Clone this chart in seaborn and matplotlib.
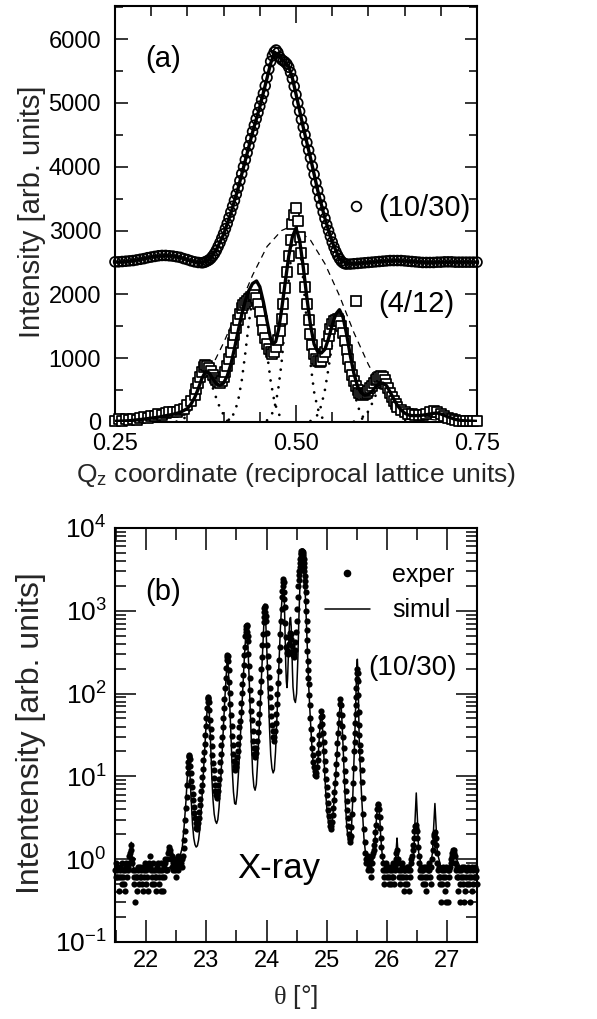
import matplotlib
matplotlib.use("Agg")
import numpy as np
import matplotlib.pyplot as plt
import seaborn as sns
from matplotlib.lines import Line2D
from matplotlib.ticker import MultipleLocator, LogLocator, NullFormatter

# ---------------- panel (a): Qz scans ----------------
circ_q = [0.25, 0.255, 0.26, 0.265, 0.27, 0.275, 0.28, 0.285, 0.29, 0.295,
          0.30, 0.305, 0.31, 0.315, 0.32, 0.325, 0.33, 0.335, 0.34, 0.345,
          0.35, 0.355, 0.36, 0.365, 0.37,
          0.3725, 0.375, 0.3775, 0.38, 0.3825, 0.385, 0.3875, 0.39, 0.3925, 0.395,
          0.3975, 0.40, 0.4025, 0.405, 0.4075, 0.41, 0.4125, 0.415, 0.4175, 0.42,
          0.4225, 0.425, 0.4275, 0.43, 0.4325, 0.435, 0.4375, 0.44, 0.4425, 0.445,
          0.4475, 0.45, 0.4525, 0.455, 0.4575, 0.46, 0.4625, 0.465, 0.4675, 0.47,
          0.4725, 0.475, 0.4775, 0.48, 0.4825, 0.485, 0.4875, 0.49, 0.4925, 0.495,
          0.4975, 0.50, 0.5025, 0.505, 0.5075, 0.51, 0.5125, 0.515, 0.5175, 0.52,
          0.5225, 0.525, 0.5275, 0.53, 0.5325, 0.535, 0.5375, 0.54, 0.5425, 0.545,
          0.5475, 0.55, 0.5525, 0.555, 0.5575, 0.56, 0.5625, 0.565, 0.5675,
          0.57, 0.575, 0.58, 0.585, 0.59, 0.595, 0.60, 0.605, 0.61, 0.615,
          0.62, 0.625, 0.63, 0.635, 0.64, 0.645, 0.65, 0.655, 0.66, 0.665,
          0.67, 0.675, 0.68, 0.685, 0.69, 0.695, 0.70, 0.705, 0.71, 0.715,
          0.72, 0.725, 0.73, 0.735, 0.74, 0.745, 0.75]
circ_I = [2510, 2510, 2515, 2520, 2525, 2530, 2540, 2550, 2560, 2575,
          2585, 2595, 2605, 2610, 2610, 2605, 2600, 2590, 2580, 2560,
          2545, 2525, 2510, 2500, 2495,
          2500, 2510, 2525, 2540, 2565, 2600, 2640, 2690, 2750, 2810,
          2880, 2950, 3030, 3110, 3200, 3290, 3380, 3470, 3570, 3670,
          3780, 3890, 4000, 4110, 4220, 4330, 4440, 4550, 4650, 4750,
          4850, 4950, 5050, 5150, 5270, 5400, 5530, 5650, 5740, 5800,
          5830, 5790, 5720, 5680, 5660, 5640, 5610, 5560, 5480, 5380,
          5260, 5130, 5000, 4870, 4740, 4620, 4500, 4380, 4260, 4140,
          4010, 3880, 3750, 3630, 3510, 3400, 3290, 3190, 3090, 3000,
          2910, 2820, 2740, 2670, 2610, 2560, 2520, 2495, 2480,
          2475, 2475, 2480, 2485, 2490, 2495, 2500, 2505, 2510, 2515,
          2520, 2525, 2530, 2530, 2530, 2530, 2525, 2520, 2515, 2510,
          2505, 2500, 2500, 2500, 2500, 2505, 2505, 2510, 2510, 2510,
          2505, 2505, 2505, 2505, 2505, 2505, 2505]

circfit_q = [0.25, 0.26, 0.27, 0.28, 0.29, 0.30, 0.31, 0.32, 0.33, 0.34, 0.35, 0.36,
             0.37, 0.38, 0.39, 0.40, 0.41, 0.42, 0.43, 0.44, 0.45, 0.46, 0.465, 0.47,
             0.475, 0.48, 0.485, 0.49, 0.495, 0.50, 0.51, 0.52, 0.53, 0.54, 0.55, 0.56,
             0.57, 0.58, 0.59, 0.60, 0.62, 0.64, 0.66, 0.68, 0.70, 0.72, 0.75]
circfit_I = [2505, 2510, 2520, 2540, 2560, 2585, 2600, 2610, 2600, 2580, 2545, 2510,
             2495, 2540, 2700, 2940, 3270, 3660, 4100, 4540, 4940, 5390, 5620, 5780,
             5770, 5690, 5640, 5570, 5390, 5140, 4620, 4140, 3630, 3190, 2820, 2560,
             2480, 2480, 2490, 2500, 2520, 2530, 2515, 2500, 2505, 2505, 2505]

sq_q = [0.25, 0.255, 0.26, 0.265, 0.27, 0.275, 0.28, 0.285, 0.29, 0.295,
        0.30, 0.305, 0.31, 0.315, 0.32, 0.325, 0.33, 0.335, 0.34, 0.345, 0.35, 0.355,
        0.36, 0.3625, 0.365, 0.3675, 0.37, 0.3725, 0.375, 0.3775, 0.38, 0.3825,
        0.385, 0.3875, 0.39, 0.3925, 0.395, 0.3975, 0.40, 0.4025, 0.405, 0.4075,
        0.41, 0.4125, 0.415, 0.4175, 0.42, 0.4225, 0.425, 0.4275, 0.43, 0.4325,
        0.435, 0.4375, 0.44, 0.4425, 0.445, 0.4475, 0.45, 0.4525, 0.455, 0.4575,
        0.46, 0.4625, 0.465, 0.4675, 0.47, 0.4725, 0.475, 0.4775, 0.48, 0.4825,
        0.485, 0.4875, 0.49, 0.4925, 0.495, 0.4975, 0.50, 0.5025, 0.505, 0.5075,
        0.51, 0.5125, 0.515, 0.5175, 0.52, 0.5225, 0.525, 0.5275, 0.53, 0.5325,
        0.535, 0.5375, 0.54, 0.5425, 0.545, 0.5475, 0.55, 0.5525, 0.555, 0.5575,
        0.56, 0.5625, 0.565, 0.5675, 0.57, 0.5725, 0.575, 0.5775, 0.58, 0.5825,
        0.585, 0.5875, 0.59, 0.5925, 0.595, 0.5975, 0.60, 0.6025, 0.605, 0.6075,
        0.61, 0.6125, 0.615, 0.6175, 0.62, 0.6225, 0.625, 0.6275, 0.63, 0.6325,
        0.635, 0.6375, 0.64,
        0.645, 0.65, 0.655, 0.66, 0.665, 0.67, 0.675, 0.68, 0.685, 0.69, 0.695,
        0.70, 0.705, 0.71, 0.715, 0.72, 0.725, 0.73, 0.735, 0.74, 0.745, 0.75]
sq_I = [20, 40, 15, 50, 30, 45, 35, 60, 80, 70,
        100, 95, 120, 115, 140, 150, 160, 150, 180, 200, 260, 330,
        430, 520, 610, 700, 780, 860, 900, 880, 850, 800,
        740, 690, 650, 620, 610, 640, 700, 780, 870, 980,
        1100, 1230, 1360, 1480, 1600, 1700, 1780, 1830, 1870, 1900,
        1930, 1960, 1980, 1990, 1950, 1850, 1720, 1580, 1440, 1320,
        1220, 1140, 1090, 1070, 1100, 1170, 1280, 1430, 1620, 1850,
        2100, 2350, 2600, 2850, 3100, 3250, 3350, 3150, 2900, 2650,
        2400, 2120, 1850, 1600, 1380, 1200, 1070, 990, 950, 940,
        960, 1020, 1100, 1220, 1350, 1450, 1530, 1580, 1600, 1610,
        1580, 1500, 1400, 1270, 1130, 990, 860, 740, 640, 560,
        500, 460, 440, 430, 440, 460, 490, 530, 570, 610,
        650, 680, 700, 720, 700, 660, 600, 530, 460, 390,
        330, 280, 240,
        190, 160, 130, 120, 110, 105, 110, 130, 150, 170, 160,
        130, 90, 60, 40, 25, 15, 10, 15, 10, 10, 10]

sqfit_q = [0.25, 0.27, 0.29, 0.31, 0.33, 0.34, 0.35, 0.355, 0.36, 0.365, 0.37, 0.375,
           0.38, 0.385, 0.39, 0.395, 0.40, 0.405, 0.41, 0.415, 0.42, 0.425, 0.43, 0.435,
           0.44, 0.4455, 0.45, 0.455, 0.46, 0.465, 0.468, 0.472, 0.476, 0.48, 0.485, 0.49,
           0.495, 0.50, 0.505, 0.51, 0.515, 0.52, 0.525, 0.53, 0.535, 0.54, 0.545, 0.55,
           0.555, 0.56, 0.565, 0.57, 0.575, 0.58, 0.585, 0.59, 0.595, 0.60, 0.605, 0.61,
           0.615, 0.62, 0.625, 0.63, 0.635, 0.64, 0.645, 0.65, 0.655, 0.66, 0.67, 0.68,
           0.69, 0.695, 0.70, 0.71, 0.72, 0.73, 0.75]
sqfit_I = [10, 20, 45, 75, 120, 150, 210, 280, 380, 520, 680, 790,
           770, 680, 600, 575, 610, 720, 900, 1150, 1420, 1680, 1900, 2060,
           2170, 2210, 2120, 1880, 1580, 1300, 1220, 1260, 1450, 1750, 2180, 2600,
           2900, 3040, 2850, 2430, 1950, 1520, 1220, 1100, 1080, 1140, 1310, 1520,
           1690, 1760, 1640, 1370, 1040, 760, 560, 460, 420, 430, 480, 550,
           600, 610, 570, 470, 360, 260, 190, 140, 110, 100, 100, 115,
           135, 140, 125, 80, 40, 20, 10]

env_q = [0.30, 0.32, 0.34, 0.36, 0.38, 0.40, 0.42, 0.44, 0.46, 0.48, 0.49,
         0.50, 0.52, 0.54, 0.56, 0.58, 0.60, 0.62, 0.64, 0.66, 0.68, 0.70]
env_I = [60, 120, 250, 460, 780, 1240, 1760, 2300, 2750, 3000, 3050,
         3030, 2850, 2480, 1980, 1400, 900, 480, 240, 110, 50, 20]

dot1_q = [0.335, 0.34, 0.345, 0.35, 0.355, 0.36, 0.365, 0.37, 0.375,
          0.38, 0.385, 0.39, 0.395, 0.40, 0.405, 0.41, 0.415]
dot1_I = [6, 19, 50, 113, 220, 370, 536, 669, 720, 669, 536, 370, 220, 113, 50, 19, 6]
dot2_q = [0.405, 0.41, 0.415, 0.42, 0.425, 0.43, 0.435, 0.44, 0.445,
          0.45, 0.455, 0.46, 0.465, 0.47, 0.475, 0.48, 0.485]
dot2_I = [18, 57, 147, 330, 643, 1079, 1562, 1951, 2100, 1951, 1562, 1079, 643, 330, 147, 57, 18]
dot3_q = [0.46, 0.465, 0.47, 0.475, 0.48, 0.485, 0.49, 0.495, 0.50,
          0.505, 0.51, 0.515, 0.52, 0.525, 0.53, 0.535, 0.54]
dot3_I = [26, 81, 210, 471, 918, 1542, 2232, 2787, 3000, 2787, 2232, 1542, 918, 471, 210, 81, 26]
dot4_q = [0.52, 0.525, 0.53, 0.535, 0.54, 0.545, 0.55, 0.555, 0.56,
          0.565, 0.57, 0.575, 0.58, 0.585, 0.59, 0.595, 0.60]
dot4_I = [15, 45, 116, 259, 505, 848, 1228, 1533, 1650, 1533, 1228, 848, 505, 259, 116, 45, 15]
dot5_q = [0.58, 0.585, 0.59, 0.595, 0.60, 0.605, 0.61, 0.615, 0.62,
          0.625, 0.63, 0.635, 0.64, 0.645, 0.65, 0.655, 0.66]
dot5_I = [5, 15, 39, 88, 171, 288, 417, 520, 560, 520, 417, 288, 171, 88, 39, 15, 5]

a_yticks = [0, 1000, 2000, 3000, 4000, 5000, 6000]
a_xticks = [0.25, 0.50, 0.75]
a_xticklabels = ["0.25", "0.50", "0.75"]

# ---------------- panel (b): theta scan ----------------
expL_t = [21.48, 21.50, 21.52, 21.54, 21.56, 21.58, 21.60, 21.62, 21.64, 21.66,
          21.68, 21.70, 21.72, 21.74, 21.76, 21.78, 21.80, 21.82, 21.84, 21.86,
          21.88, 21.90, 21.92, 21.94, 21.96, 21.98, 22.00, 22.02, 22.04, 22.06,
          22.08, 22.10, 22.12, 22.14, 22.16, 22.18, 22.20, 22.22, 22.24, 22.26,
          22.28, 22.30, 22.32, 22.34, 22.36, 22.38, 22.40, 22.42, 22.44, 22.46,
          22.48, 22.50, 22.52, 22.54, 22.56, 22.58]
expL_I = [0.74, 0.9, 0.61, 0.41, 0.8, 0.61, 0.5, 0.74, 0.41, 0.9,
          0.61, 0.8, 1.1, 1.3, 1.0, 0.74, 0.5, 0.3, 0.61, 0.74,
          0.5, 0.8, 0.61, 0.41, 0.74, 0.9, 0.5, 0.61, 0.8, 1.1,
          0.74, 0.5, 0.9, 0.61, 0.41, 0.8, 0.74, 0.5, 0.9, 0.61,
          0.41, 0.8, 1.0, 0.74, 1.2, 1.4, 1.3, 1.1, 0.9, 1.0,
          0.74, 0.8, 1.1, 1.0, 0.9, 1.0]
expL2_t = [21.49, 21.51, 21.53, 21.55, 21.57, 21.59, 21.61, 21.63, 21.65, 21.67,
           21.69, 21.71, 21.73, 21.75, 21.77, 21.79, 21.81, 21.83, 21.85, 21.87,
           21.89, 21.91, 21.93, 21.95, 21.97, 21.99, 22.01, 22.03, 22.05, 22.07,
           22.09, 22.11, 22.13, 22.15, 22.17, 22.19, 22.21, 22.23, 22.25, 22.27,
           22.29, 22.31, 22.33, 22.35, 22.37, 22.39, 22.41, 22.43, 22.45, 22.47,
           22.49, 22.51, 22.53, 22.55, 22.57, 22.59]
expL2_I = [0.61, 0.74, 0.8, 0.61, 0.74, 0.9, 0.61, 0.5, 0.74, 0.8,
           0.74, 0.9, 1.2, 1.5, 0.9, 0.61, 0.74, 0.61, 0.41, 0.8,
           0.61, 0.74, 0.5, 0.8, 0.61, 0.74, 0.8, 0.41, 0.9, 0.8,
           0.61, 0.74, 0.5, 0.74, 0.61, 0.9, 0.61, 0.74, 0.41, 0.74,
           0.61, 0.9, 0.74, 1.0, 1.3, 1.2, 1.0, 0.8, 0.74, 0.9,
           0.61, 0.9, 0.74, 0.8, 0.9, 0.8]

expM_t = [22.60, 22.61, 22.62, 22.63, 22.64, 22.65, 22.66, 22.67, 22.68, 22.69,
          22.70, 22.71, 22.72, 22.73, 22.74, 22.75, 22.76, 22.77, 22.78, 22.79,
          22.80, 22.81, 22.82, 22.83, 22.84, 22.85, 22.86, 22.87, 22.88, 22.89,
          22.90, 22.91, 22.92, 22.93, 22.94, 22.95, 22.96, 22.97, 22.98, 22.99,
          23.00, 23.01, 23.02, 23.03, 23.04, 23.05, 23.06, 23.07, 23.08, 23.09,
          23.10, 23.11, 23.12, 23.13, 23.14, 23.15, 23.16, 23.17, 23.18, 23.19,
          23.20, 23.21, 23.22, 23.23, 23.24, 23.25, 23.26, 23.27, 23.28, 23.29,
          23.30, 23.31, 23.32, 23.33, 23.34, 23.35, 23.36, 23.37, 23.38, 23.39,
          23.40, 23.41, 23.42, 23.43, 23.44, 23.45, 23.46, 23.47, 23.48, 23.49,
          23.50, 23.51, 23.52, 23.53, 23.54, 23.55, 23.56, 23.57, 23.58, 23.59,
          23.60, 23.61, 23.62, 23.63, 23.64, 23.65, 23.66, 23.67, 23.68, 23.69,
          23.70, 23.71, 23.72, 23.73, 23.74, 23.75, 23.76, 23.77, 23.78, 23.79,
          23.80, 23.81, 23.82, 23.83, 23.84, 23.85, 23.86, 23.87, 23.88, 23.89,
          23.90, 23.91, 23.92, 23.93, 23.94, 23.95, 23.96, 23.97, 23.98, 23.99,
          24.00, 24.01, 24.02, 24.03, 24.04, 24.05, 24.06, 24.07, 24.08, 24.09,
          24.10, 24.11, 24.12, 24.13, 24.14, 24.15, 24.16, 24.17, 24.18, 24.19,
          24.20, 24.21, 24.22, 24.23, 24.24, 24.25, 24.26, 24.27, 24.28, 24.29,
          24.30, 24.31, 24.32, 24.33, 24.34, 24.35, 24.36, 24.37, 24.38, 24.39,
          24.40, 24.41, 24.42, 24.43, 24.44, 24.45, 24.46, 24.47, 24.48, 24.49,
          24.50, 24.51, 24.52, 24.53, 24.54, 24.55, 24.56, 24.57, 24.58, 24.59,
          24.60, 24.61, 24.62, 24.63, 24.64, 24.65, 24.66, 24.67, 24.68, 24.69,
          24.70, 24.71, 24.72, 24.73, 24.74, 24.75, 24.76, 24.77, 24.78, 24.79,
          24.80, 24.81, 24.82, 24.83, 24.84, 24.85, 24.86, 24.87, 24.88, 24.89,
          24.90, 24.91, 24.92, 24.93, 24.94, 24.95, 24.96, 24.97, 24.98, 24.99,
          25.00, 25.01, 25.02, 25.03, 25.04, 25.05, 25.06, 25.07, 25.08, 25.09,
          25.10, 25.11, 25.12, 25.13, 25.14, 25.15, 25.16, 25.17, 25.18, 25.19,
          25.20, 25.21, 25.22, 25.23, 25.24, 25.25, 25.26, 25.27, 25.28, 25.29,
          25.30, 25.31, 25.32, 25.33, 25.34, 25.35, 25.36, 25.37, 25.38, 25.39,
          25.40, 25.41, 25.42, 25.43, 25.44, 25.45, 25.46, 25.47, 25.48, 25.49,
          25.50, 25.51, 25.52, 25.53, 25.54, 25.55, 25.56, 25.57, 25.58, 25.59,
          25.60, 25.61, 25.62, 25.63, 25.64, 25.65]
expM_I = [1.0, 1.1, 1.35, 1.7, 2.2, 3.0, 4.1, 5.7, 7.8, 11,
          15, 18, 16, 13.5, 11, 8.9, 7.4, 6.2, 5.2, 4.3,
          3.6, 3.1, 2.7, 2.4, 2.3, 2.45, 2.7, 3.1, 3.7, 4.5,
          5.4, 6.6, 7.9, 9.9, 12.3, 15.8, 19.8, 24.5, 31.6, 41,
          51, 66, 79, 90, 78, 63, 48, 37.6, 29.5, 23,
          18.2, 14.5, 12, 9.6, 7.9, 6.7, 5.9, 5.5, 5.9, 6.7,
          7.9, 9.3, 11.7, 14.8, 18.6, 23.8, 30, 40, 50, 66,
          87, 117, 153, 202, 251, 290, 245, 190, 138, 101,
          74, 55, 41, 31, 24, 18.6, 15.5, 13.2, 12, 13,
          14.4, 17, 20.4, 24.8, 30, 39, 47, 60, 77, 102,
          129, 166, 219, 290, 370, 490, 600, 670, 560, 435,
          300, 216, 155, 111, 83, 62, 48, 35.5, 27, 22,
          18.6, 17, 18.9, 21.9, 27, 34, 44, 57, 77, 104,
          140, 196, 275, 384, 525, 725, 970, 1150, 970, 760,
          542, 386, 286, 212, 157, 116, 90, 69, 53, 42,
          35, 29.6, 27, 30, 35, 44, 56, 74, 99, 135,
          185, 254, 363, 520, 745, 1050, 1460, 2000, 2400, 1700,
          1100, 720, 480, 360, 310, 300, 330, 400, 480, 540,
          520, 450, 380, 320, 290, 280, 300, 340, 420, 550,
          750, 1050, 1450, 2000, 2700, 3400, 4200, 4800, 5200, 5300,
          5100, 4600, 3800, 3000, 2300, 1700, 1000, 580, 330, 190,
          130, 95, 72, 50, 37, 28, 22, 18, 15, 13,
          11.5, 10.5, 10, 11, 12.8, 15.6, 19.3, 24.8, 31.6, 41,
          52, 62, 54, 43, 33.5, 26, 20, 15.5, 11.9, 9.4,
          7.5, 6.0, 4.8, 3.9, 3.3, 2.8, 2.5, 2.3, 2.5, 2.8,
          3.4, 4.2, 5.2, 6.5, 8.4, 10.8, 14, 18.6, 25, 33,
          44, 57, 74, 85, 73, 55, 41, 30, 22, 16,
          11.6, 8.8, 6.7, 5.0, 3.9, 3.1, 2.5, 2.0, 1.75, 1.6,
          1.9, 2.45, 3.5, 5.3, 8.2, 12.7, 20.5, 33, 57, 92,
          149, 200, 140, 60, 32, 24, 20, 16, 12, 8.5,
          5.5, 3.5, 2.3, 1.6, 1.2, 1.0]

expH_t = [22.695, 22.705, 22.715, 23.025, 23.035, 23.345, 23.355, 23.655, 23.665,
          23.675, 23.685, 23.955, 23.965, 23.975, 23.985, 24.265, 24.275, 24.285,
          24.295, 24.535, 24.545, 24.555, 24.565, 24.575, 24.585, 24.595, 24.605,
          24.615, 24.625, 24.635, 24.645, 24.655, 24.665, 24.675, 24.685, 24.695,
          25.465, 25.475, 25.485, 25.495, 25.505, 25.515, 25.525, 25.535]
expH_I = [13, 17, 17.5, 85, 88, 275, 285, 550, 650,
          650, 500, 850, 1080, 1100, 870, 1750, 2250, 2250,
          1400, 2350, 3050, 3800, 4500, 5000, 5300, 5250, 4900,
          4200, 3400, 2650, 2000, 1300, 760, 440, 250, 155,
          26, 44, 72, 118, 175, 175, 95, 42]

expR_t = [25.66, 25.68, 25.70, 25.72, 25.74, 25.76, 25.78, 25.80, 25.82, 25.84,
          25.86, 25.88, 25.90, 25.92, 25.94, 25.96, 25.98, 26.00, 26.02, 26.04,
          26.06, 26.08, 26.10, 26.12, 26.14, 26.16, 26.18, 26.20, 26.22, 26.24,
          26.26, 26.28, 26.30, 26.32, 26.34, 26.36, 26.38, 26.40, 26.42, 26.44,
          26.46, 26.48, 26.50, 26.52, 26.54, 26.56, 26.58, 26.60, 26.62, 26.64,
          26.66, 26.68, 26.70, 26.72, 26.74, 26.76, 26.78, 26.80, 26.82, 26.84,
          26.86, 26.88, 26.90, 26.92, 26.94, 26.96, 26.98, 27.00, 27.02, 27.04,
          27.06, 27.08, 27.10, 27.12, 27.14, 27.16, 27.18, 27.20, 27.22, 27.24,
          27.26, 27.28, 27.30, 27.32, 27.34, 27.36, 27.38, 27.40, 27.42, 27.44,
          27.46, 27.48, 27.50]
expR_I = [0.9, 1.1, 0.8, 1.0, 0.75, 1.1, 1.3, 1.7, 2.6, 4.0,
          4.7, 3.2, 1.8, 1.1, 0.75, 0.5, 0.9, 0.61, 0.8, 0.5,
          0.74, 0.61, 0.9, 0.5, 0.8, 1.2, 1.0, 0.74, 0.5, 0.61,
          0.9, 0.41, 0.74, 0.61, 0.5, 0.8, 0.61, 0.9, 1.1, 1.5,
          2.2, 2.6, 2.2, 1.4, 0.9, 0.61, 0.74, 0.5, 0.8, 0.61,
          0.41, 0.74, 0.9, 0.61, 0.8, 1.3, 1.9, 2.1, 1.5, 0.9,
          0.61, 0.5, 0.3, 0.74, 0.61, 0.41, 0.8, 0.5, 0.3, 0.74,
          0.9, 1.1, 1.3, 1.2, 0.9, 0.61, 0.41, 0.74, 0.3, 0.61,
          0.5, 0.8, 0.41, 0.61, 0.74, 0.5, 0.3, 0.61, 0.8, 0.5,
          0.61, 0.74, 0.5]
expR2_t = [25.67, 25.69, 25.71, 25.73, 25.75, 25.77, 25.79, 25.81, 25.83, 25.85,
           25.87, 25.89, 25.91, 25.93, 25.95, 25.97, 25.99, 26.01, 26.03, 26.05,
           26.07, 26.09, 26.11, 26.13, 26.15, 26.17, 26.19, 26.21, 26.23, 26.25,
           26.27, 26.29, 26.31, 26.33, 26.35, 26.37, 26.39, 26.41, 26.43, 26.45,
           26.47, 26.49, 26.51, 26.53, 26.55, 26.57, 26.59, 26.61, 26.63, 26.65,
           26.67, 26.69, 26.71, 26.73, 26.75, 26.77, 26.79, 26.81, 26.83, 26.85,
           26.87, 26.89, 26.91, 26.93, 26.95, 26.97, 26.99, 27.01, 27.03, 27.05,
           27.07, 27.09, 27.11, 27.13, 27.15, 27.17, 27.19, 27.21, 27.23, 27.25,
           27.27, 27.29, 27.31, 27.33, 27.35, 27.37, 27.39, 27.41, 27.43, 27.45,
           27.47, 27.49]
expR2_I = [1.0, 0.74, 0.9, 0.61, 0.9, 1.2, 1.5, 2.1, 3.3, 4.5,
           4.0, 2.4, 1.4, 0.9, 0.61, 0.74, 0.8, 0.74, 0.61, 0.8,
           0.5, 0.74, 0.61, 0.74, 1.0, 1.3, 0.9, 0.61, 0.74, 0.8,
           0.61, 0.74, 0.5, 0.8, 0.74, 0.41, 0.74, 1.0, 1.3, 1.8,
           2.5, 2.4, 1.8, 1.1, 0.74, 0.8, 0.61, 0.74, 0.5, 0.8,
           0.61, 0.8, 0.74, 0.5, 1.0, 1.6, 2.0, 1.8, 1.2, 0.74,
           0.8, 0.61, 0.5, 0.8, 0.74, 0.61, 0.3, 0.74, 0.61, 0.8,
           1.0, 1.2, 1.3, 1.1, 0.74, 0.8, 0.61, 0.5, 0.74, 0.8,
           0.61, 0.3, 0.74, 0.5, 0.8, 0.61, 0.74, 0.41, 0.74, 0.61,
           0.8, 0.61]

sim_t = [21.48, 21.70, 21.73, 21.75, 21.77, 21.80, 22.30, 22.40, 22.50, 22.55,
         22.60, 22.63, 22.66, 22.68, 22.70, 22.71, 22.72, 22.73, 22.75, 22.77,
         22.79, 22.81, 22.83, 22.85, 22.87, 22.89, 22.91, 22.93, 22.95, 22.97,
         22.99, 23.01, 23.02, 23.03, 23.04, 23.05, 23.07, 23.09, 23.11, 23.13,
         23.15, 23.17, 23.19, 23.21, 23.23, 23.25, 23.27, 23.29, 23.31, 23.33,
         23.34, 23.35, 23.36, 23.37, 23.39, 23.41, 23.43, 23.45, 23.47, 23.49,
         23.51, 23.53, 23.55, 23.57, 23.59, 23.61, 23.63, 23.65, 23.66, 23.67,
         23.68, 23.69, 23.71, 23.73, 23.75, 23.77, 23.79, 23.81, 23.83, 23.85,
         23.87, 23.89, 23.91, 23.93, 23.95, 23.96, 23.97, 23.98, 23.99, 24.01,
         24.03, 24.05, 24.07, 24.09, 24.11, 24.13, 24.15, 24.17, 24.19, 24.21,
         24.23, 24.25, 24.27, 24.28, 24.29, 24.30, 24.31, 24.32, 24.33, 24.34,
         24.35, 24.36, 24.37, 24.38, 24.39, 24.40, 24.41, 24.42, 24.43, 24.44,
         24.46, 24.48, 24.50, 24.52, 24.54, 24.56, 24.58, 24.59, 24.60, 24.61,
         24.62, 24.63, 24.64, 24.65, 24.66, 24.67, 24.68, 24.69, 24.70, 24.72,
         24.74, 24.76, 24.78, 24.80, 24.82, 24.84, 24.86, 24.88, 24.90, 24.91,
         24.92, 24.93, 24.95, 24.97, 24.99, 25.01, 25.03, 25.05, 25.07, 25.09,
         25.11, 25.13, 25.15, 25.17, 25.19, 25.21, 25.22, 25.23, 25.24, 25.25,
         25.27, 25.29, 25.31, 25.33, 25.35, 25.37, 25.39, 25.41, 25.43, 25.45,
         25.47, 25.49, 25.50, 25.51, 25.52, 25.53, 25.54, 25.56, 25.58, 25.60,
         25.62, 25.65, 25.70, 25.75, 25.79, 25.82, 25.84, 25.86, 25.88, 25.90,
         25.93, 25.98, 26.10, 26.14, 26.16, 26.17, 26.18, 26.20, 26.25, 26.40,
         26.45, 26.47, 26.49, 26.51, 26.53, 26.58, 26.72, 26.76, 26.78, 26.80,
         26.82, 26.84, 26.90, 27.05, 27.10, 27.13, 27.16, 27.22, 27.50]
sim_I = [0.75, 0.75, 0.9, 1.6, 0.9, 0.75, 0.75, 0.8, 0.9, 1.0,
         1.4, 2.5, 5, 9, 15, 18, 14, 9.5, 4.8, 2.6,
         1.8, 1.5, 1.4, 1.45, 1.7, 2.3, 3.5, 6, 11, 20,
         36, 60, 77, 95, 75, 55, 25, 10, 5.2, 3.5,
         2.9, 2.7, 3.0, 4.2, 7, 13, 26, 50, 95, 170,
         230, 290, 230, 160, 70, 28, 12, 6.5, 4.7, 4.6,
         6, 10, 18, 35, 70, 140, 260, 450, 560, 680,
         540, 380, 160, 62, 24, 11, 7.5, 6.8, 8, 14,
         28, 60, 130, 280, 580, 850, 1200, 950, 650, 270,
         100, 38, 18, 12.5, 11, 12, 20, 45, 110, 260,
         600, 1150, 1900, 2400, 1900, 1000, 450, 220, 140, 118,
         150, 250, 420, 650, 800, 830, 650, 380, 200, 120,
         85, 78, 100, 250, 900, 2500, 4700, 5300, 5000, 4300,
         3400, 2500, 1800, 1300, 850, 520, 320, 200, 130, 65,
         35, 20, 13, 10, 9.5, 11, 18, 32, 52, 62,
         52, 40, 20, 10, 5.5, 3.6, 2.8, 2.5, 2.5, 2.8,
         3.8, 6, 10, 18, 32, 55, 70, 88, 72, 55,
         26, 11, 5, 2.8, 1.9, 1.6, 1.6, 2.2, 4.5, 12,
         35, 110, 200, 260, 180, 80, 30, 12, 6, 3.2,
         1.8, 1.1, 0.8, 0.85, 1.3, 2.5, 4, 4.7, 3.5, 1.8,
         1.0, 0.8, 0.8, 0.9, 1.4, 1.8, 1.4, 0.9, 0.8, 0.8,
         1.2, 3, 6.3, 3, 1.2, 0.8, 0.8, 1.2, 2.5, 4.7,
         2.5, 1.2, 0.8, 0.8, 1.0, 1.2, 1.0, 0.8, 0.8]

b_xticks = [22, 23, 24, 25, 26, 27]
b_yticks = [0.1, 1, 10, 100, 1000, 10000]

# ---------------- style ----------------
sns.set_theme(style="ticks")
plt.rcParams["font.family"] = ["Liberation Sans", "DejaVu Sans"]
plt.rcParams["mathtext.fontset"] = "custom"
plt.rcParams["mathtext.rm"] = "Liberation Serif"
plt.rcParams["mathtext.it"] = "Liberation Serif:italic"
plt.rcParams["axes.linewidth"] = 1.5
plt.rcParams["axes.edgecolor"] = "black"
plt.rcParams["text.color"] = "black"
plt.rcParams["xtick.color"] = "black"
plt.rcParams["ytick.color"] = "black"

FS = 17
fig = plt.figure(figsize=(5.97, 10.19), dpi=100)
ax1 = fig.add_axes([0.1926, 0.5859, 0.6064, 0.4082])
ax2 = fig.add_axes([0.1926, 0.0756, 0.6064, 0.4063])

# ---- panel (a)
sns.lineplot(x=env_q, y=env_I, ax=ax1, color="black", lw=0.9,
             linestyle=(0, (5, 4)), sort=False, estimator=None, zorder=1)
for gq, gI in [(dot1_q, dot1_I), (dot2_q, dot2_I), (dot3_q, dot3_I),
               (dot4_q, dot4_I), (dot5_q, dot5_I)]:
    sns.lineplot(x=gq, y=gI, ax=ax1, color="black", lw=2.0,
                 linestyle=(0, (0.01, 3.2)), dash_capstyle="round",
                 sort=False, estimator=None, zorder=1)
sns.scatterplot(x=sq_q, y=sq_I, ax=ax1, marker="s", s=42, facecolor="white",
                edgecolor="black", linewidth=1.25, zorder=3, clip_on=False)
sns.lineplot(x=sqfit_q, y=sqfit_I, ax=ax1, color="black", lw=2.4,
             sort=False, estimator=None, zorder=4)
sns.scatterplot(x=circ_q, y=circ_I, ax=ax1, marker="o", s=50, facecolor="none",
                edgecolor="black", linewidth=1.25, zorder=3, clip_on=False)
sns.lineplot(x=circfit_q, y=circfit_I, ax=ax1, color="black", lw=2.4,
             sort=False, estimator=None, zorder=4)

ax1.set_xlim(0.25, 0.75)
ax1.set_ylim(0, 6520)
ax1.set_xticks(a_xticks)
ax1.set_xticklabels(a_xticklabels)
ax1.xaxis.set_minor_locator(MultipleLocator(0.05))
ax1.set_yticks(a_yticks)
ax1.yaxis.set_minor_locator(MultipleLocator(500))
ax1.tick_params(which="both", direction="in", top=True, right=True, width=1.1,
                labelsize=FS)
ax1.tick_params(axis="x", which="major", length=12, pad=8)
ax1.tick_params(axis="x", which="minor", length=7)
ax1.tick_params(axis="y", which="major", length=9, pad=10)
ax1.tick_params(axis="y", which="minor", length=6)
ax1.set_xlabel(r"Q$_{\mathdefault{z}}$ coordinate (reciprocal lattice units)", fontsize=19)
ax1.set_ylabel("Intensity [arb. units]", fontsize=21)
ax1.xaxis.set_label_coords(0.5, -0.093)
ax1.yaxis.set_label_coords(-0.19, 0.505)
ax1.text(0.133, 0.873, "(a)", transform=ax1.transAxes, fontsize=21,
         ha="center", va="center")
leg1 = ax1.legend(handles=[
    Line2D([], [], marker="o", ls="", mfc="none", mec="black", ms=7, mew=1.25, label="(10/30)"),
    Line2D([], [], marker="s", ls="", mfc="white", mec="black", ms=6.5, mew=1.25, label="(4/12)")],
    loc="upper left", bbox_to_anchor=(0.642, 0.547), frameon=False, fontsize=21,
    handlelength=0.6, handletextpad=0.45, labelspacing=2.3, borderpad=0, borderaxespad=0)

# ---- panel (b)
exp_t = expL_t + expL2_t + expM_t + expH_t + expR_t + expR2_t
exp_I = expL_I + expL2_I + expM_I + expH_I + expR_I + expR2_I
sns.scatterplot(x=exp_t, y=exp_I, ax=ax2,
                marker="o", s=20, color="black", linewidth=0, zorder=2, clip_on=False)
sns.lineplot(x=sim_t, y=sim_I, ax=ax2, color="black", lw=1.1,
             sort=False, estimator=None, zorder=3)
ax2.set_yscale("log")
ax2.set_xlim(21.48, 27.5)
ax2.set_ylim(0.1, 1e4)
ax2.set_xticks(b_xticks)
ax2.set_xticklabels([str(v) for v in b_xticks])
ax2.xaxis.set_minor_locator(MultipleLocator(0.5))
ax2.set_yticks(b_yticks)
ax2.yaxis.set_minor_locator(LogLocator(base=10, subs=[2, 3, 4, 5, 6, 7, 8, 9], numticks=20))
ax2.yaxis.set_minor_formatter(NullFormatter())
ax2.tick_params(which="both", direction="in", top=True, right=True, width=1.1,
                labelsize=FS)
ax2.tick_params(axis="y", which="major", labelsize=19)
ax2.tick_params(axis="x", which="major", length=16, pad=6)
ax2.tick_params(axis="x", which="minor", length=8.5)
ax2.tick_params(axis="y", which="major", length=15, pad=6)
ax2.tick_params(axis="y", which="minor", length=8)
ax2.set_xlabel(r"$\mathrm{\theta}$ [°]", fontsize=19)
ax2.set_ylabel("Intentensity [arb. units]", fontsize=23)
ax2.xaxis.set_label_coords(0.5, -0.10)
ax2.yaxis.set_label_coords(-0.19, 0.505)
ax2.text(0.133, 0.845, "(b)", transform=ax2.transAxes, fontsize=21,
         ha="center", va="center")
ax2.text(0.453, 0.155, "X-ray", transform=ax2.transAxes, fontsize=25,
         ha="center", va="baseline")
ax2.text(0.822, 0.662, "(10/30)", transform=ax2.transAxes, fontsize=20,
         ha="center", va="center")
leg2 = ax2.legend(handles=[
    Line2D([], [], marker="o", ls="", color="black", ms=4.5, label="exper"),
    Line2D([], [], color="black", lw=1.1, label="simul")],
    loc="upper left", bbox_to_anchor=(0.58, 0.915), frameon=False, fontsize=FS + 1,
    handlelength=1.8, handletextpad=0.9, labelspacing=0.45, borderpad=0, borderaxespad=0)

for ax in (ax1, ax2):
    for sp in ax.spines.values():
        sp.set_linewidth(1.5)
        sp.set_color("black")

fig.savefig("out.png", dpi=100)
